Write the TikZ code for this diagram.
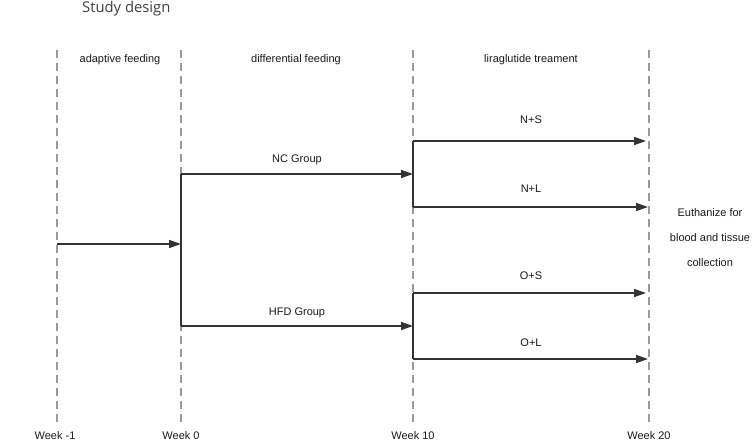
\documentclass[tikz,border=0pt]{standalone}
\usepackage{fontspec}
\setmainfont{Liberation Sans}
\newfontfamily\titlefont{Open Sans}
\usetikzlibrary{arrows.meta}
\definecolor{linegray}{HTML}{333333}
\definecolor{dashgray}{HTML}{9A9A9A}
\tikzset{
  phase/.style={dashgray, line width=1.3pt, dash pattern=on 8pt off 5pt},
  flow/.style={linegray, line width=1.4pt},
  flowarrow/.style={flow, -{Triangle[length=12pt,width=8pt]}},
  lbl/.style={font=\fontsize{11}{13}\selectfont, text=black!90, inner sep=0pt}
}
\begin{document}
\begin{tikzpicture}[x=1pt,y=-1pt]
   \useasboundingbox (0,0) rectangle (752,444);
   \node[anchor=west, inner sep=0pt, text=black!75, font=\titlefont\fontsize{14.8}{17}\selectfont] (title) at (82,9) {Study design};
   % time lines
   \foreach \x/\name in {57/wm1,181/w0,413/w10,649/w20}{
     \coordinate (\name top) at (\x,50);
     \coordinate (\name bot) at (\x,424);
     \draw[phase] (\name top) -- (\name bot);
   }
   \node[lbl] (adapt) at (120,60) {adaptive feeding};
   \node[lbl] (diff) at (296,60) {differential feeding};
   \node[lbl] (lira) at (531,60) {liraglutide treament};
   % start
   \coordinate (start) at (57,244);
   \coordinate (split) at (181,244);
   \coordinate (nc0) at (181,174);
   \coordinate (hfd0) at (181,326);
   \coordinate (nc1) at (413,174);
   \coordinate (hfd1) at (413,326);
   \draw[flowarrow] (start) -- (split);
   \draw[flow] (nc0) -- (hfd0);
   \draw[flowarrow] (nc0) -- (nc1);
   \draw[flowarrow] (hfd0) -- (hfd1);
   \node[lbl] (nclbl) at (297,160) {NC Group};
   \node[lbl] (hfdlbl) at (297,313) {HFD Group};
   % treatment
   \coordinate (ns0) at (413,141);
   \coordinate (nl0) at (413,207);
   \coordinate (os0) at (413,293);
   \coordinate (ol0) at (413,359);
   \coordinate (ns1) at (646,141);
   \coordinate (nl1) at (648,207);
   \coordinate (os1) at (646,293);
   \coordinate (ol1) at (648,359);
   \draw[flow] (ns0) -- (nl0);
   \draw[flow] (os0) -- (ol0);
   \foreach \a/\b in {ns0/ns1,nl0/nl1,os0/os1,ol0/ol1}
     \draw[flowarrow] (\a) -- (\b);
   \node[lbl] (nslbl) at (531,120) {N+S};
   \node[lbl] (nllbl) at (531,189) {N+L};
   \node[lbl] (oslbl) at (531,276) {O+S};
   \node[lbl] (ollbl) at (531,343) {O+L};
   \node[lbl, align=center, font=\fontsize{11}{25}\selectfont] (euth) at (710,238) {Euthanize for\\blood and tissue\\collection};
   % weeks
   \node[lbl] (wkm1) at (55,436) {Week -1};
   \node[lbl] (wk0) at (181,436) {Week 0};
   \node[lbl] (wk10) at (413,436) {Week 10};
   \node[lbl] (wk20) at (649,436) {Week 20};
\end{tikzpicture}
\end{document}
